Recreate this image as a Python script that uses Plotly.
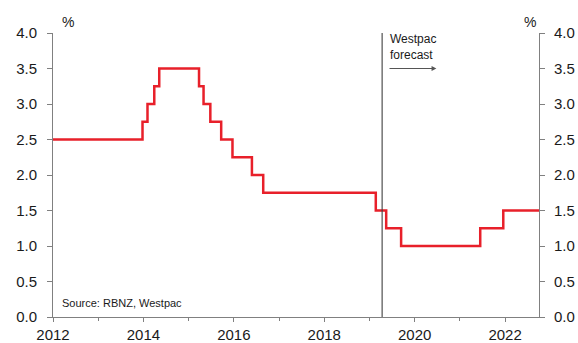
import plotly.graph_objects as go

# Step dates (decimal years) and OCR values (%)
dates = [2012.0, 2013.98, 2014.09, 2014.24, 2014.35, 2015.23, 2015.33, 2015.48,
         2015.72, 2015.97, 2016.40, 2016.65, 2019.14, 2019.37, 2019.70, 2021.45,
         2021.96, 2022.75]
ocr = [2.5, 2.75, 3.0, 3.25, 3.5, 3.25, 3.0, 2.75, 2.5, 2.25, 2.0, 1.75,
       1.5, 1.25, 1.0, 1.25, 1.5, 1.5]
forecast_start = 2019.28
x_ticks = [2012, 2014, 2016, 2018, 2020, 2022]
y_ticks = [0.0, 0.5, 1.0, 1.5, 2.0, 2.5, 3.0, 3.5, 4.0]

FONT = "Liberation Sans, Arial, sans-serif"
AX = "#808080"
TXT = "#1a1a1a"

W, H = 578, 343
L, R, T, B = 53, 39, 33, 26
pw, ph = W - L - R, H - T - B

def px(xp):
    return (xp - L) / pw

def py(yp):
    return (H - B - yp) / ph

fig = go.Figure()
fig.add_trace(go.Scatter(x=dates, y=ocr, mode="lines", line_shape="hv",
                         line=dict(color="#e8202a", width=2.5),
                         showlegend=False, hoverinfo="skip"))
fig.add_trace(go.Scatter(x=dates, y=ocr, mode="lines", yaxis="y2",
                         line=dict(color="rgba(0,0,0,0)", width=0),
                         showlegend=False, hoverinfo="skip"))

fig.add_shape(type="line", xref="x", yref="paper", x0=forecast_start, x1=forecast_start,
              y0=0, y1=1, line=dict(color="#404040", width=1.1))

fig.add_annotation(x=forecast_start + 0.12, y=3.80, xref="x", yref="y",
                   text="Westpac<br>forecast", showarrow=False, xanchor="left",
                   yanchor="middle", align="left",
                   font=dict(family=FONT, size=12, color=TXT))
fig.add_annotation(x=forecast_start + 1.2, y=3.5, ax=forecast_start + 0.13, ay=3.5,
                   xref="x", yref="y", axref="x", ayref="y", text="",
                   showarrow=True, arrowhead=2, arrowsize=0.8, arrowwidth=1.2,
                   arrowcolor="#555555")
fig.add_annotation(x=px(60), y=py(303), xref="paper", yref="paper",
                   text="Source: RBNZ, Westpac",
                   showarrow=False, xanchor="left", yanchor="middle",
                   font=dict(family=FONT, size=11, color=TXT))
fig.add_annotation(x=px(60), y=py(22), xref="paper", yref="paper",
                   text="%", showarrow=False, xanchor="left", yanchor="middle",
                   font=dict(family=FONT, size=14, color=TXT))
fig.add_annotation(x=px(530), y=py(22), xref="paper", yref="paper",
                   text="%", showarrow=False, xanchor="center", yanchor="middle",
                   font=dict(family=FONT, size=14, color=TXT))

fig.update_layout(
    width=W, height=H,
    margin=dict(l=L, r=R, t=T, b=B),
    paper_bgcolor="white", plot_bgcolor="white",
    font=dict(family=FONT, size=15, color=TXT),
    xaxis=dict(range=[2012, 2022.75], tickvals=x_ticks, ticktext=[str(v) for v in x_ticks],
               showgrid=False, zeroline=False, showline=True, linecolor=AX, linewidth=1,
               ticks="outside", ticklen=4, tickcolor=AX, automargin=False,
               minor=dict(dtick=1, tick0=2012, ticks="outside", ticklen=3, tickcolor=AX),
               tickfont=dict(size=15, color=TXT)),
    yaxis=dict(range=[0, 4], tickvals=y_ticks, ticktext=[f"{v:.1f}" for v in y_ticks],
               showgrid=False, zeroline=False, showline=True, linecolor=AX, linewidth=1,
               ticks="outside", ticklen=5, tickcolor=AX, automargin=False,
               ticklabelstandoff=7, tickfont=dict(size=15, color=TXT)),
    yaxis2=dict(range=[0, 4], tickvals=y_ticks, ticktext=[f"{v:.1f}" for v in y_ticks],
                overlaying="y", side="right", showgrid=False, zeroline=False,
                showline=True, linecolor=AX, linewidth=1, ticks="outside", ticklen=5,
                tickcolor=AX, automargin=False, ticklabelstandoff=6,
                tickfont=dict(size=15, color=TXT)),
)

fig.write_html("out.html")
